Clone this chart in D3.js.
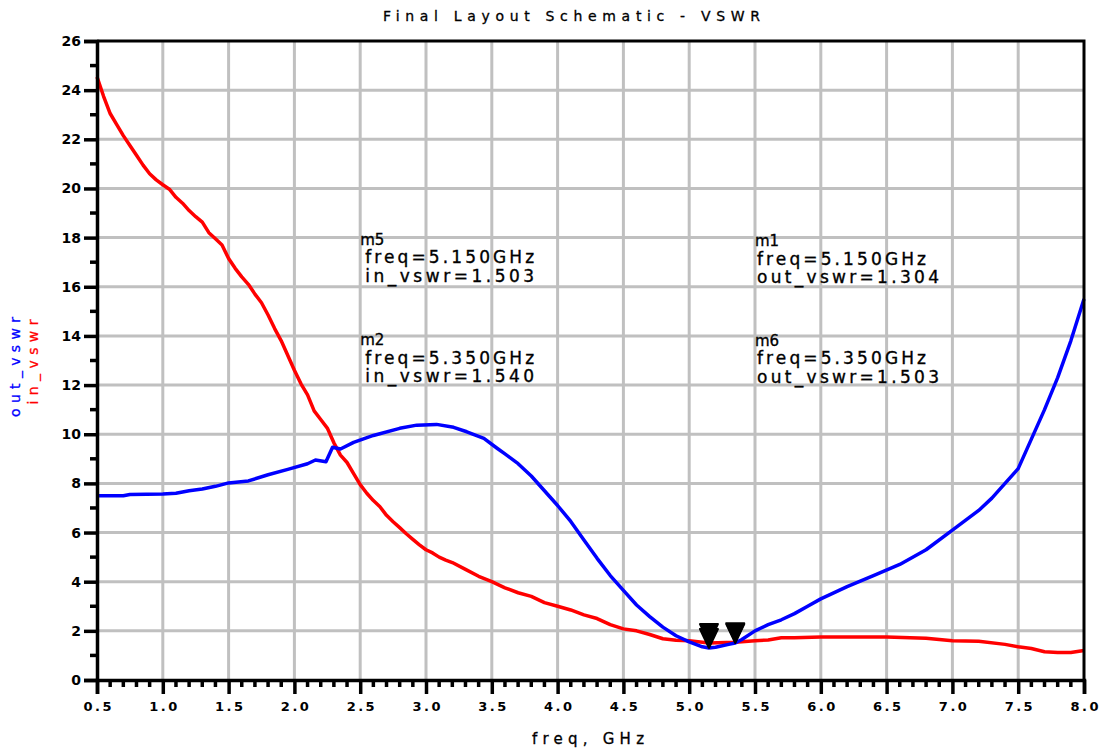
<!DOCTYPE html>
<html>
<head>
<meta charset="utf-8">
<script src="https://cdn.jsdelivr.net/npm/d3@7"></script>
<style>
    html, body { margin: 0; padding: 0; background: #fff; }
    svg { display: block; }
</style>
</head>
<body>
<div id="chart"></div>
<script>
// in_vswr (rouge)
const freqIn = [0.5, 0.55, 0.6, 0.65, 0.7, 0.75, 0.8, 0.85, 0.9, 0.95, 1.0, 1.05, 1.1, 1.15, 1.2, 1.25, 1.3, 1.35, 1.4, 1.45,
    1.5, 1.55, 1.6, 1.65, 1.7, 1.75, 1.8, 1.85, 1.9, 1.95, 2.0, 2.05, 2.1, 2.15, 2.2, 2.25, 2.3, 2.35, 2.4, 2.45,
    2.5, 2.55, 2.6, 2.65, 2.7, 2.75, 2.8, 2.85, 2.9, 2.95, 3.0, 3.05, 3.1, 3.15, 3.2, 3.3, 3.4, 3.5, 3.6, 3.7,
    3.8, 3.9, 4.0, 4.1, 4.2, 4.3, 4.4, 4.5, 4.6, 4.7, 4.8, 4.9, 5.0, 5.15, 5.35, 5.5, 5.6, 5.7, 5.8, 6.0, 6.5,
    6.8, 7.0, 7.2, 7.4, 7.5, 7.6, 7.7, 7.8, 7.9, 8.0];
const inVswr = [24.54, 23.75, 23.05, 22.6, 22.15, 21.75, 21.35, 20.95, 20.6, 20.35, 20.15, 19.97, 19.64, 19.4, 19.1, 18.85, 18.63, 18.2, 17.95, 17.7,
    17.15, 16.75, 16.4, 16.1, 15.7, 15.35, 14.85, 14.3, 13.8, 13.2, 12.6, 12.05, 11.6, 10.95, 10.6, 10.25, 9.65, 9.15, 8.85, 8.4,
    7.95, 7.6, 7.3, 7.05, 6.7, 6.44, 6.2, 5.95, 5.72, 5.5, 5.3, 5.17, 5.0, 4.88, 4.78, 4.5, 4.22, 4.0, 3.75, 3.55,
    3.4, 3.15, 3.0, 2.85, 2.65, 2.5, 2.25, 2.08, 2.0, 1.85, 1.68, 1.62, 1.6, 1.503, 1.54, 1.6, 1.63, 1.72, 1.72, 1.75, 1.75,
    1.7, 1.6, 1.58, 1.45, 1.35, 1.28, 1.15, 1.12, 1.12, 1.2];

// out_vswr (bleu)
const freqOut = [0.5, 0.7, 0.75, 1.0, 1.1, 1.2, 1.3, 1.4, 1.5, 1.65, 1.8, 1.95, 2.1, 2.16, 2.24, 2.29, 2.35, 2.45, 2.6, 2.8,
    2.93, 3.08, 3.21, 3.31, 3.44, 3.54, 3.6, 3.7, 3.8, 3.9, 4.0, 4.1, 4.2, 4.3, 4.4, 4.5, 4.6, 4.7, 4.8, 4.9,
    5.0, 5.1, 5.15, 5.2, 5.3, 5.35, 5.4, 5.5, 5.6, 5.7, 5.8, 5.9, 6.0, 6.2, 6.4, 6.6, 6.8, 7.0, 7.2, 7.3,
    7.4, 7.5, 7.6, 7.7, 7.8, 7.9, 8.0];
const outVswr = [7.5, 7.5, 7.55, 7.57, 7.6, 7.7, 7.77, 7.88, 8.02, 8.1, 8.35, 8.57, 8.8, 8.95, 8.88, 9.47, 9.4, 9.67, 9.95, 10.24,
    10.37, 10.4, 10.28, 10.1, 9.83, 9.43, 9.2, 8.8, 8.3, 7.7, 7.1, 6.45, 5.7, 4.95, 4.25, 3.65, 3.05, 2.58, 2.15, 1.8,
    1.55, 1.35, 1.304, 1.33, 1.45, 1.503, 1.65, 2.0, 2.25, 2.45, 2.7, 3.0, 3.3, 3.8, 4.25, 4.7, 5.3, 6.1, 6.9, 7.4,
    8.0, 8.6, 9.8, 11.0, 12.3, 13.8, 15.5];

const xTicks = [0.5, 1.0, 1.5, 2.0, 2.5, 3.0, 3.5, 4.0, 4.5, 5.0, 5.5, 6.0, 6.5, 7.0, 7.5, 8.0];
const yTicks = [0, 2, 4, 6, 8, 10, 12, 14, 16, 18, 20, 22, 24, 26];

// marqueurs
const markerNames = ["m5", "m2", "m1", "m6"];
const markerFreqs = [5.15, 5.35, 5.15, 5.35];
const markerValues = [1.503, 1.540, 1.304, 1.503];
const markerTraces = ["in_vswr", "in_vswr", "out_vswr", "out_vswr"];

function drawChart() {
    const W = 1103, H = 754;
    const margin = {top: 41, right: 19, bottom: 74, left: 97};
    const width = W - margin.left - margin.right;
    const height = H - margin.top - margin.bottom;

    const x = d3.scaleLinear().domain([0.5, 8.0]).range([0, width]);
    const y = d3.scaleLinear().domain([0, 26]).range([height, 0]);

    const root = d3.select("#chart").append("svg")
        .attr("width", W)
        .attr("height", H);

    // titre
    root.append("text")
        .attr("x", 383).attr("y", 21)
        .attr("textLength", 377).attr("lengthAdjust", "spacing")
        .attr("stroke", "#000").attr("stroke-width", 0.3)
        .style("font-family", "DejaVu Sans").style("font-size", "14px")
        .text("Final Layout Schematic - VSWR");

    const svg = root.append("g")
        .attr("transform", `translate(${margin.left},${margin.top})`);

    // grille
    svg.append("g").selectAll("line")
        .data(xTicks.slice(1, -1))
        .join("line")
        .attr("x1", d => x(d)).attr("x2", d => x(d))
        .attr("y1", 0).attr("y2", height)
        .attr("stroke", "#c0c0c0").attr("stroke-width", 3);
    svg.append("g").selectAll("line")
        .data(yTicks.slice(1, -1))
        .join("line")
        .attr("x1", 0).attr("x2", width)
        .attr("y1", d => y(d)).attr("y2", d => y(d))
        .attr("stroke", "#c0c0c0").attr("stroke-width", 3);

    // courbes
    const line = d3.line().x(d => x(d[0])).y(d => y(d[1]));
    svg.append("path")
        .datum(d3.zip(freqIn, inVswr))
        .attr("fill", "none").attr("stroke", "#ff0000").attr("stroke-width", 3.5)
        .attr("stroke-linejoin", "round")
        .attr("d", line);
    svg.append("path")
        .datum(d3.zip(freqOut, outVswr))
        .attr("fill", "none").attr("stroke", "#0000ff").attr("stroke-width", 3.5)
        .attr("stroke-linejoin", "round")
        .attr("d", line);

    // cadre haut / droite
    svg.append("path")
        .attr("d", `M0,${y(26)}H${x(8)}V${y(0)}`)
        .attr("fill", "none").attr("stroke", "#000").attr("stroke-width", 3);

    // axe y
    const yAxis = d3.axisLeft(y).tickValues(yTicks).tickSize(13).tickPadding(3)
        .tickFormat(d3.format("d"));
    const gy = svg.append("g").call(yAxis);
    gy.select(".domain").attr("stroke-width", 3.5);
    gy.selectAll(".tick line").attr("stroke-width", 3.5);
    gy.selectAll(".tick text")
        .style("font-family", "DejaVu Sans").style("font-weight", "bold").style("font-size", "14px");
    svg.append("g").selectAll("line")
        .data(d3.range(1, 26, 2))
        .join("line")
        .attr("x1", -7).attr("x2", 0)
        .attr("y1", d => y(d)).attr("y2", d => y(d))
        .attr("stroke", "#000").attr("stroke-width", 3.5);

    // axe x
    const xAxis = d3.axisBottom(x).tickValues(xTicks).tickSize(14).tickPadding(8)
        .tickFormat(d3.format(".1f"));
    const gx = svg.append("g").attr("transform", `translate(0,${height})`).call(xAxis);
    gx.select(".domain").attr("stroke-width", 3.5);
    gx.selectAll(".tick line").attr("stroke-width", 3.5);
    gx.selectAll(".tick text")
        .style("font-family", "DejaVu Sans").style("font-weight", "bold").style("font-size", "13px")
        .style("letter-spacing", "2.5px").attr("dx", "1.2");
    svg.append("g").attr("transform", `translate(0,${height})`)
        .selectAll("line")
        .data(d3.range(0.5, 8.0, 0.1).filter(d => Math.abs(d * 2 - Math.round(d * 2)) > 0.01))
        .join("line")
        .attr("x1", d => x(d)).attr("x2", d => x(d))
        .attr("y1", 1).attr("y2", 7)
        .attr("stroke", "#000").attr("stroke-width", 3.5);

    // libellés des axes
    root.append("text")
        .attr("x", 532).attr("y", 744)
        .attr("textLength", 112).attr("lengthAdjust", "spacing")
        .attr("stroke", "#000").attr("stroke-width", 0.3)
        .style("font-family", "DejaVu Sans").style("font-size", "15px")
        .text("freq, GHz");
    root.append("text")
        .attr("transform", "translate(20,367) rotate(-90)")
        .attr("text-anchor", "middle")
        .attr("textLength", 100).attr("lengthAdjust", "spacing")
        .attr("fill", "#0000ff").attr("stroke", "#0000ff").attr("stroke-width", 0.3)
        .style("font-family", "DejaVu Sans").style("font-size", "14px")
        .text("out_vswr");
    root.append("text")
        .attr("transform", "translate(38,362) rotate(-90)")
        .attr("text-anchor", "middle")
        .attr("textLength", 85).attr("lengthAdjust", "spacing")
        .attr("fill", "#ff0000").attr("stroke", "#ff0000").attr("stroke-width", 0.3)
        .style("font-family", "DejaVu Sans").style("font-size", "14px")
        .text("in_vswr");

    // triangles des marqueurs
    svg.append("g").selectAll("path")
        .data(d3.range(markerNames.length))
        .join("path")
        .attr("d", i => {
            const cx = x(markerFreqs[i]), cy = y(markerValues[i]);
            return `M${cx},${cy}L${cx - 9},${cy - 19}L${cx + 9},${cy - 19}Z`;
        })
        .attr("fill", "#000").attr("stroke", "#000").attr("stroke-width", 2)
        .attr("stroke-linejoin", "round");

    // textes des marqueurs
    const boxFreq = [2.5, 2.5, 5.5, 5.5];
    const boxVal = [17.7, 13.63, 17.65, 13.6];
    markerNames.forEach((name, i) => {
        const bx = x(boxFreq[i]), by = y(boxVal[i]);
        const lines = [
            name,
            `freq=${markerFreqs[i].toFixed(3)}GHz`,
            `${markerTraces[i]}=${markerValues[i].toFixed(3)}`
        ];
        const t = svg.append("g");
        lines.forEach((s, k) => {
            const txt = t.append("text")
                .attr("x", bx + (k === 0 ? 0 : (i < 2 ? 5 : 2)))
                .attr("y", by + k * 18.5)
                .attr("stroke", "#000").attr("stroke-width", 0.35)
                .style("font-family", "DejaVu Sans").style("font-size", k === 0 ? "15px" : "17px")
                .text(s);
            if (k > 0) txt.attr("textLength", s.length * 13).attr("lengthAdjust", "spacing");
        });
    });
}

drawChart();
</script>
</body>
</html>
